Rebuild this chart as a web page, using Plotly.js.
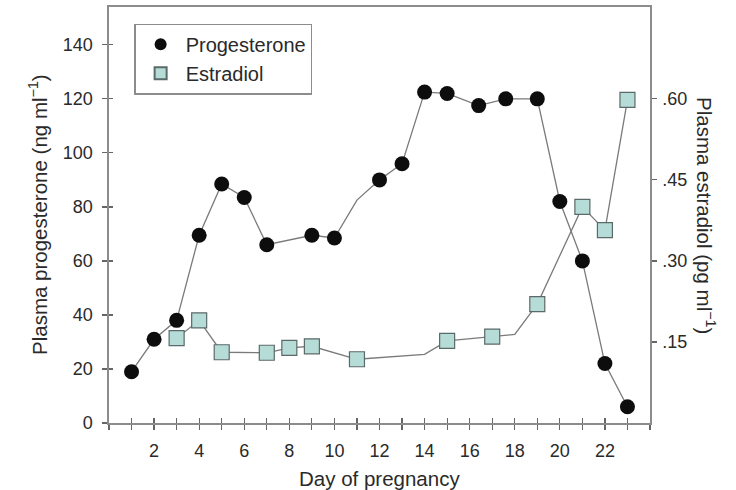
<!DOCTYPE html>
<html>
<head>
<meta charset="utf-8">
<script src="https://cdn.plot.ly/plotly-3.0.1.min.js"></script>
<style>html,body{margin:0;padding:0;background:#fff;}#chart{width:736px;height:490px;}</style>
</head>
<body>
<div id="chart"></div>
<script>
// ---- data ----
const progDays = [1, 2, 3, 4, 5, 6, 7, 9, 10, 11, 12, 13, 14, 15, 16.4, 17.6, 19, 20, 21, 22, 23];
const progVals = [19, 31, 38, 69.5, 88.5, 83.5, 66, 69.5, 68.5, 82.5, 90, 96, 122.5, 122, 117.5, 120, 120, 82, 60, 22, 6];
const progMeasured = [1, 1, 1, 1, 1, 1, 1, 1, 1, 0, 1, 1, 1, 1, 1, 1, 1, 1, 1, 1, 1];

const estDays = [3, 4, 5, 7, 8, 9, 11, 14, 15, 17, 18, 19, 21, 22, 23];
const estVals = [0.157, 0.19, 0.131, 0.13, 0.139, 0.142, 0.118, 0.127, 0.152, 0.16, 0.164, 0.22, 0.40, 0.357, 0.598];
const estMeasured = [1, 1, 1, 1, 1, 1, 1, 0, 1, 1, 0, 1, 1, 1, 1];

const dayLabels = [2, 4, 6, 8, 10, 12, 14, 16, 18, 20, 22];
const progTicks = [0, 20, 40, 60, 80, 100, 120, 140];
const estTicks = [0.15, 0.30, 0.45, 0.60];
const estTickText = ['.15', '.30', '.45', '.60'];

const seriesNames = ['Progesterone', 'Estradiol'];
const xTitle = 'Day of pregnancy';
const yTitle = 'Plasma progesterone (ng ml<sup>\u22121</sup>)';
const y2Title = 'Plasma estradiol (pg ml<sup>\u22121</sup>)';

// ---- styling ----
const FONT = 'Liberation Sans, Arial, Helvetica, sans-serif';
const TXT = '#2a2a2a';
const AXC = '#8c8c8c';
const LINEC = '#7a7a7a';
const FS = 18;
const FT = 20.5;

const pick = (arr, flags) => arr.filter((_, i) => flags[i]);

const traces = [
  { x: progDays, y: progVals, mode: 'lines', line: { color: LINEC, width: 1.3 },
    showlegend: false, hoverinfo: 'skip', xaxis: 'x', yaxis: 'y' },
  { x: pick(progDays, progMeasured), y: pick(progVals, progMeasured), mode: 'markers',
    name: seriesNames[0], marker: { symbol: 'circle', size: 15, color: '#0d0d0d', line: { width: 0 } },
    xaxis: 'x', yaxis: 'y' },
  { x: estDays, y: estVals, mode: 'lines', line: { color: LINEC, width: 1.3 },
    showlegend: false, hoverinfo: 'skip', xaxis: 'x', yaxis: 'y2' },
  { x: pick(estDays, estMeasured), y: pick(estVals, estMeasured), mode: 'markers',
    name: seriesNames[1], marker: { symbol: 'square', size: 15, color: '#b6dcd7', line: { color: '#5a6a68', width: 1.2 } },
    xaxis: 'x', yaxis: 'y2' },
  // carrier for the inner half of the crossing tick marks
  { x: [], y: [], mode: 'markers', showlegend: false, hoverinfo: 'skip', xaxis: 'x3', yaxis: 'y3' }
];

const XR = [0, 24];
const YR = [0, 154];
const Y2R = [0, 0.77];

const layout = {
  width: 736, height: 490,
  margin: { l: 109, r: 86, t: 7, b: 67 },
  paper_bgcolor: '#fff', plot_bgcolor: 'rgba(0,0,0,0)',
  font: { family: FONT, size: FS, color: TXT },
  showlegend: true,
  legend: {
    x: 0.047, y: 0.96, xanchor: 'left', yanchor: 'top',
    bgcolor: '#fff', bordercolor: '#8c8c8c', borderwidth: 1.2,
    font: { family: FONT, size: 20, color: TXT },
    itemsizing: 'constant', traceorder: 'normal', itemwidth: 40
  },
  xaxis: {
    range: XR, autorange: false, showgrid: false, zeroline: false,
    showline: true, linecolor: AXC, linewidth: 1.6, mirror: true,
    tickmode: 'array', tickvals: dayLabels,
    ticks: 'outside', ticklen: 5, tickwidth: 1.2, tickcolor: '#666',
    minor: { dtick: 1, tick0: 0, ticks: 'outside', ticklen: 5, tickwidth: 1.2, tickcolor: '#666', showgrid: false },
    ticklabelstandoff: 6,
    tickfont: { family: FONT, size: FS, color: TXT }
  },
  xaxis3: {
    overlaying: 'x', anchor: 'y3', range: XR, autorange: false,
    showgrid: false, zeroline: false, showline: false,
    dtick: 1, tick0: 0, showticklabels: false,
    ticks: 'inside', ticklen: 5, tickwidth: 1.2, tickcolor: '#666'
  },
  yaxis: {
    range: YR, autorange: false, showgrid: false, zeroline: false,
    showline: true, linecolor: AXC, linewidth: 1.6,
    tickmode: 'array', tickvals: progTicks,
    ticks: 'outside', ticklen: 5, tickwidth: 1.2, tickcolor: '#666',
    ticklabelstandoff: 6,
    tickfont: { family: FONT, size: FS, color: TXT }
  },
  yaxis3: {
    overlaying: 'y', anchor: 'x3', side: 'left', range: YR, autorange: false,
    showgrid: false, zeroline: false, showline: false,
    tickmode: 'array', tickvals: progTicks, showticklabels: false,
    ticks: 'inside', ticklen: 4, tickwidth: 1.2, tickcolor: '#666'
  },
  yaxis2: {
    overlaying: 'y', side: 'right', anchor: 'x', range: Y2R, autorange: false,
    showgrid: false, zeroline: false,
    showline: true, linecolor: AXC, linewidth: 1.6,
    tickmode: 'array', tickvals: estTicks, ticktext: estTickText,
    ticks: 'outside', ticklen: 5, tickwidth: 1.2, tickcolor: '#666',
    ticklabelstandoff: 2,
    tickfont: { family: FONT, size: FS, color: TXT }
  },
  annotations: [
    { text: yTitle, xref: 'paper', yref: 'paper', x: 0, y: 0.5, xshift: -71,
      xanchor: 'center', yanchor: 'middle', textangle: -90, showarrow: false,
      font: { family: FONT, size: FT, color: TXT } },
    { text: y2Title, xref: 'paper', yref: 'paper', x: 1, y: 0.5, xshift: 56,
      xanchor: 'center', yanchor: 'middle', textangle: 90, showarrow: false,
      font: { family: FONT, size: FT, color: TXT } },
    { text: xTitle, xref: 'paper', yref: 'paper', x: 0.5, y: 0, yshift: -55,
      xanchor: 'center', yanchor: 'middle', showarrow: false,
      font: { family: FONT, size: FT, color: TXT } }
  ]
};

Plotly.newPlot('chart', traces, layout, { displayModeBar: false, staticPlot: true });
</script>
</body>
</html>
